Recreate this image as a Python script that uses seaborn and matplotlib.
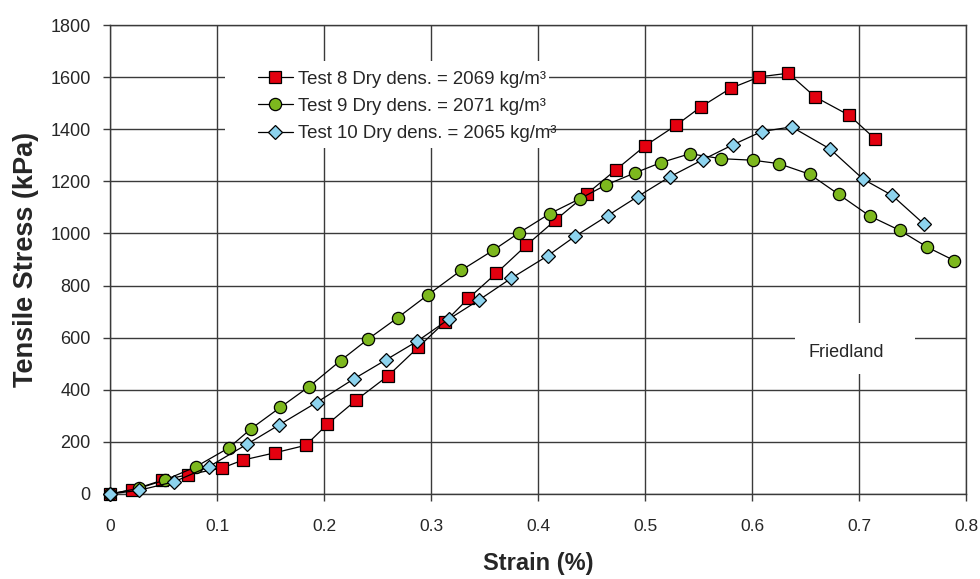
import matplotlib
matplotlib.use("Agg")
import matplotlib.pyplot as plt
from matplotlib.patches import Rectangle
import pandas as pd
import seaborn as sns

# Strain (%) and tensile stress (kPa) for the three Friedland clay tests
strain_t8 = [0.0, 0.021, 0.049, 0.073, 0.105, 0.124, 0.154, 0.183, 0.203, 0.230,
             0.260, 0.288, 0.313, 0.335, 0.361, 0.389, 0.416, 0.446, 0.473, 0.500,
             0.529, 0.552, 0.580, 0.607, 0.634, 0.659, 0.691, 0.715]
stress_t8 = [0, 16, 53, 74, 100, 130, 158, 187, 267, 360,
             454, 563, 660, 751, 847, 954, 1050, 1153, 1245, 1336,
             1415, 1485, 1557, 1601, 1615, 1524, 1453, 1363]

strain_t9 = [0.0, 0.027, 0.051, 0.080, 0.111, 0.132, 0.159, 0.186, 0.2155, 0.241,
             0.269, 0.297, 0.328, 0.358, 0.3825, 0.411, 0.439, 0.464, 0.491, 0.515,
             0.542, 0.571, 0.601, 0.625, 0.654, 0.681, 0.710, 0.738, 0.764, 0.789]
stress_t9 = [0, 22, 53, 104, 177, 251, 332, 412, 512, 594,
             677, 764, 858, 935, 1003, 1076, 1133, 1187, 1233, 1272,
             1306, 1287, 1281, 1268, 1227, 1150, 1067, 1012, 947, 896]

strain_t10 = [0.0, 0.027, 0.060, 0.0925, 0.128, 0.158, 0.193, 0.228, 0.258, 0.287,
              0.317, 0.345, 0.375, 0.409, 0.435, 0.465, 0.493, 0.523, 0.554, 0.582,
              0.609, 0.637, 0.673, 0.704, 0.731, 0.7605]
stress_t10 = [0, 14, 47, 105, 191, 265, 351, 442, 515, 586,
              672, 745, 828, 914, 990, 1068, 1141, 1217, 1283, 1340,
              1391, 1409, 1324, 1208, 1146, 1037]

series_labels = ["Test 8 Dry dens. = 2069 kg/m³",
                 "Test 9 Dry dens. = 2071 kg/m³",
                 "Test 10 Dry dens. = 2065 kg/m³"]
x_ticks = [0, 0.1, 0.2, 0.3, 0.4, 0.5, 0.6, 0.7, 0.8]
x_tick_labels = ["0", "0.1", "0.2", "0.3", "0.4", "0.5", "0.6", "0.7", "0.8"]
y_ticks = [0, 200, 400, 600, 800, 1000, 1200, 1400, 1600, 1800]

sns.set_style("white")
plt.rcParams["font.family"] = ["Liberation Sans", "DejaVu Sans"]

frames = []
for lab, xs, ys in [(series_labels[0], strain_t8, stress_t8),
                    (series_labels[1], strain_t9, stress_t9),
                    (series_labels[2], strain_t10, stress_t10)]:
    frames.append(pd.DataFrame({"strain": xs, "stress": ys, "test": lab}))
df = pd.concat(frames, ignore_index=True)

styles = {
    series_labels[0]: dict(marker="s", markerfacecolor="#E3000F", markersize=8.2),
    series_labels[1]: dict(marker="o", markerfacecolor="#7DB81E", markersize=8.8),
    series_labels[2]: dict(marker="D", markerfacecolor="#8DD3EE", markersize=7.0),
}

fig = plt.figure(figsize=(9.8, 5.79), dpi=100)
ax = fig.add_axes([110 / 980, 1 - 494 / 579, 856 / 980, 469 / 579])

for lab in series_labels:
    sub = df[df["test"] == lab]
    sns.lineplot(data=sub, x="strain", y="stress", ax=ax, estimator=None, sort=False,
                 color="black", linewidth=0.9, markeredgecolor="black",
                 markeredgewidth=0.9, clip_on=False, zorder=5, label=lab,
                 **styles[lab])

ax.set_xlim(0, 0.8)
ax.set_ylim(0, 1800)
ax.set_xticks(x_ticks)
ax.set_xticklabels(x_tick_labels)
ax.set_yticks(y_ticks)
ax.grid(True, color="#3a3a3a", linewidth=1.0)
ax.set_axisbelow(True)
for side, sp in ax.spines.items():
    sp.set_visible(True)
    sp.set_color("#3a3a3a")
    sp.set_linewidth(1.0)
ax.tick_params(axis="both", direction="out", length=5, width=1.0, color="#3a3a3a",
               bottom=True, left=True)
ax.tick_params(axis="y", labelsize=13, pad=9)
ax.tick_params(axis="x", labelsize=12.5, pad=13)

ax.set_xlabel("Strain (%)", fontsize=17, fontweight="bold", labelpad=13)
ax.set_ylabel("Tensile Stress (kPa)", fontsize=19.5, fontweight="bold", labelpad=8)

# White panel behind the legend, hiding the grid there
ax.add_patch(Rectangle((0.134, 0.738), 0.379, 0.186, transform=ax.transAxes,
                       facecolor="white", edgecolor="none", zorder=2))
leg = ax.legend(loc="upper left", bbox_to_anchor=(0.173, 0.903), frameon=False,
                fontsize=13.4, handlelength=1.85, handletextpad=0.3, labelspacing=0.56,
                borderpad=0, borderaxespad=0)
leg.set_zorder(6)

# Site label with its own white panel
ax.add_patch(Rectangle((0.6402, 461), 0.1121, 197, facecolor="white",
                       edgecolor="none", zorder=2))
ax.text(0.688, 542, "Friedland", fontsize=13, ha="center", va="center", zorder=6)

fig.savefig("out.png", dpi=100)
